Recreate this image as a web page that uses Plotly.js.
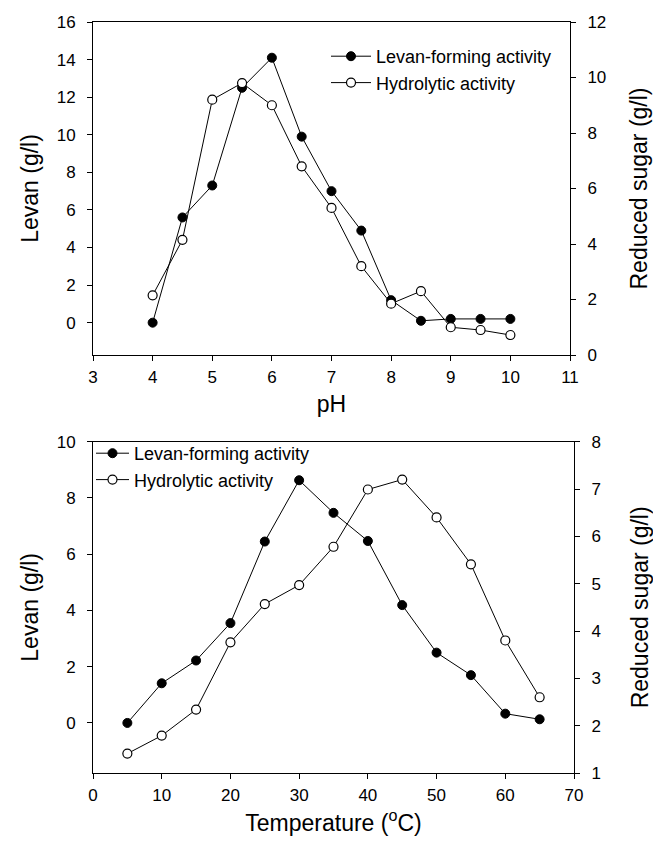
<!DOCTYPE html>
<html><head><meta charset="utf-8">
<script src="https://cdn.plot.ly/plotly-3.0.1.min.js"></script>
<style>html,body{margin:0;padding:0;background:#fff}</style>
</head><body>
<div id="chart" style="width:653px;height:845px"></div>
<script>
// ---- data: effect of pH ----
const phValues = [4, 4.5, 5, 5.5, 6, 6.5, 7, 7.5, 8, 8.5, 9, 9.5, 10];
const phLevan = [0, 5.6, 7.3, 12.5, 14.1, 9.9, 7.0, 4.9, 1.2, 0.1, 0.2, 0.2, 0.2];
const phReducedSugar = [2.15, 4.15, 9.2, 9.8, 9.0, 6.8, 5.3, 3.2, 1.85, 2.3, 1.0, 0.9, 0.72];
// ---- data: effect of temperature ----
const tempValues = [5, 10, 15, 20, 25, 30, 35, 40, 45, 50, 55, 60, 65];
const tempLevan = [0, 1.41, 2.22, 3.55, 6.45, 8.63, 7.47, 6.47, 4.19, 2.5, 1.7, 0.33, 0.13];
const tempReducedSugar = [1.41, 1.79, 2.34, 3.76, 4.57, 4.97, 5.78, 6.99, 7.2, 6.4, 5.41, 3.8, 2.6];
// ---- labels ----
const seriesNames = ['Levan-forming activity', 'Hydrolytic activity'];
const titles = {ph: 'pH', temp: 'Temperature (<sup>o</sup>C)', levan: 'Levan (g/l)', sugar: 'Reduced sugar (g/l)'};

const W = 653, H = 845;
const filled = {symbol: 'circle', size: 9, color: '#000', line: {color: '#000', width: 1}};
const hollow = {symbol: 'circle', size: 9, color: '#fff', line: {color: '#000', width: 1.2}};
const ln = {color: '#000', width: 1};

const traces = [
  {x: phValues, y: phLevan, name: seriesNames[0], mode: 'lines+markers', marker: filled, line: ln, xaxis: 'x', yaxis: 'y', legend: 'legend'},
  {x: phValues, y: phReducedSugar, name: seriesNames[1], mode: 'lines+markers', marker: hollow, line: ln, xaxis: 'x', yaxis: 'y2', legend: 'legend'},
  {x: tempValues, y: tempLevan, name: seriesNames[0], mode: 'lines+markers', marker: filled, line: ln, xaxis: 'x2', yaxis: 'y3', legend: 'legend2'},
  {x: tempValues, y: tempReducedSugar, name: seriesNames[1], mode: 'lines+markers', marker: hollow, line: ln, xaxis: 'x2', yaxis: 'y4', legend: 'legend2'}
];

const axBase = {
  showline: true, linecolor: '#000', linewidth: 1, showgrid: false, zeroline: false,
  ticks: 'outside', ticklen: 5, tickwidth: 1, tickcolor: '#000',
  tickfont: {size: 17, color: '#000'}
};
const titleFont = {size: 23, color: '#000'};

const layout = {
  width: W, height: H,
  margin: {l: 0, r: 0, t: 0, b: 0},
  paper_bgcolor: '#fff', plot_bgcolor: 'rgba(0,0,0,0)',
  font: {family: '"Liberation Sans", Arial, sans-serif', color: '#000', size: 17},
  showlegend: true,
  xaxis: Object.assign({}, axBase, {
    domain: [93 / W, 570 / W], anchor: 'y', range: [3, 11], tick0: 3, dtick: 1, mirror: true,
    ticklabelstandoff: 2,
    title: {text: titles.ph, font: titleFont, standoff: 9}
  }),
  yaxis: Object.assign({}, axBase, {
    domain: [1 - 355 / H, 1 - 22 / H], anchor: 'x', range: [-1.72, 16], tick0: 0, dtick: 2,
    ticklabelstandoff: 8,
    title: {text: titles.levan, font: titleFont, standoff: 11}
  }),
  yaxis2: Object.assign({}, axBase, {
    overlaying: 'y', side: 'right', anchor: 'x', range: [0, 12], tick0: 0, dtick: 2,
    ticklabelstandoff: 8,
    title: {text: titles.sugar, font: titleFont, standoff: 25}
  }),
  xaxis2: Object.assign({}, axBase, {
    domain: [93 / W, 574 / W], anchor: 'y3', range: [0, 70], tick0: 0, dtick: 10, mirror: true,
    ticklabelstandoff: 2,
    title: {text: titles.temp, font: titleFont, standoff: 10}
  }),
  yaxis3: Object.assign({}, axBase, {
    domain: [1 - 773 / H, 1 - 441.7 / H], anchor: 'x2', range: [-1.78, 10], tick0: 0, dtick: 2,
    ticklabelstandoff: 8,
    title: {text: titles.levan, font: titleFont, standoff: 11}
  }),
  yaxis4: Object.assign({}, axBase, {
    overlaying: 'y3', side: 'right', anchor: 'x2', range: [1, 8], tick0: 1, dtick: 1,
    ticklabelstandoff: 8,
    title: {text: titles.sugar, font: titleFont, standoff: 32}
  }),
  legend: {x: 326 / W, y: 1 - 38 / H, xanchor: 'left', yanchor: 'top', bgcolor: 'rgba(0,0,0,0)',
           font: {size: 18, color: '#000'}, itemwidth: 40, tracegroupgap: 0},
  legend2: {x: 91 / W, y: 1 - 435 / H, xanchor: 'left', yanchor: 'top', bgcolor: 'rgba(0,0,0,0)',
            font: {size: 18, color: '#000'}, itemwidth: 33, tracegroupgap: 0}
};

Plotly.newPlot('chart', traces, layout, {displayModeBar: false, staticPlot: true});
</script>
</body></html>
